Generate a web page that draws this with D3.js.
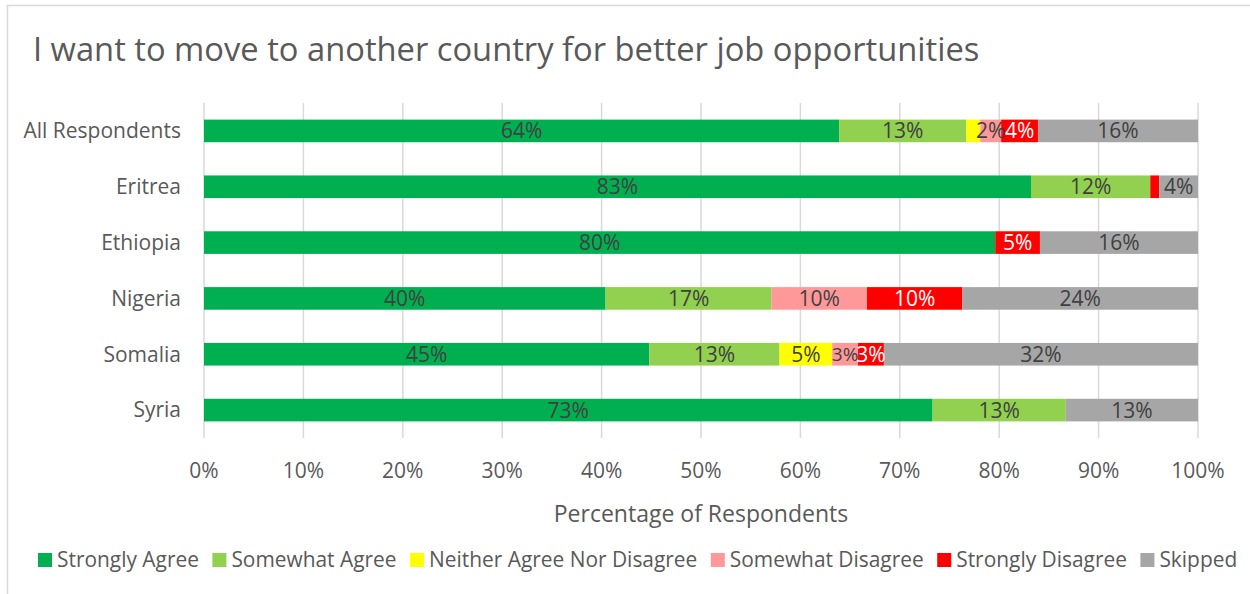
<!DOCTYPE html>
<html><head><meta charset="utf-8">
<script src="https://cdn.jsdelivr.net/npm/d3@7"></script>
<style>body{margin:0;background:#fff;} svg{display:block;font-family:"Open Sans",sans-serif;}</style>
</head><body>
<svg id="chart" width="1250" height="594"></svg>
<script>
const title = "I want to move to another country for better job opportunities";
const categories = ["All Respondents","Eritrea","Ethiopia","Nigeria","Somalia","Syria"];
const seriesNames = ["Strongly Agree","Somewhat Agree","Neither Agree Nor Disagree","Somewhat Disagree","Strongly Disagree","Skipped"];
const seriesColors = ["#00b050","#92d050","#ffff00","#ff9999","#ff0000","#a6a6a6"];
const stronglyAgree   = [63.9, 83.2, 79.6, 40.4, 44.8, 73.3];
const somewhatAgree   = [12.8, 12.0, 0, 16.7, 13.1, 13.4];
const neither         = [1.4, 0, 0, 0, 5.3, 0];
const somewhatDisagree= [2.1, 0, 0, 9.6, 2.6, 0];
const stronglyDisagree= [3.7, 0.9, 4.5, 9.6, 2.6, 0];
const skipped         = [16.1, 3.9, 15.9, 23.7, 31.6, 13.3];
const xTicks = [0,10,20,30,40,50,60,70,80,90,100];
const axisTitle = "Percentage of Respondents";

const series = [stronglyAgree, somewhatAgree, neither, somewhatDisagree, stronglyDisagree, skipped];
const svg = d3.select("#chart");
const textColor = "#595959";

// chart border
svg.append("rect").attr("x",7.5).attr("y",5.5).attr("width",1300).attr("height",700)
  .attr("fill","none").attr("stroke","#d9d9d9").attr("stroke-width",1.5);

svg.append("text").attr("x",33).attr("y",61).attr("font-size",32.7).attr("fill",textColor).text(title);

const x = d3.scaleLinear().domain([0,100]).range([204,1198]);
const y = d3.scaleBand().domain(categories).range([103,438]).paddingInner(0.595).paddingOuter(0.2975);

// gridlines
svg.append("g").selectAll("line").data(xTicks).join("line")
  .attr("x1",d=>x(d)).attr("x2",d=>x(d)).attr("y1",103).attr("y2",438)
  .attr("stroke","#d9d9d9").attr("stroke-width",1.5);

// tick labels
svg.append("g").selectAll("text").data(xTicks).join("text")
  .attr("x",d=>x(d)).attr("y",478).attr("text-anchor","middle")
  .attr("font-size",21).attr("fill",textColor).text(d=>d+"%");

// category labels
svg.append("g").selectAll("text").data(categories).join("text")
  .attr("x",181).attr("y",d=>y(d)+y.bandwidth()/2).attr("dy","0.35em").attr("text-anchor","end")
  .attr("font-size",21).attr("fill",textColor).text(d=>d);

// bars
const stackData = categories.map((c,i)=>{let o={cat:c}; seriesNames.forEach((s,j)=>o[s]=series[j][i]); return o;});
const stack = d3.stack().keys(seriesNames)(stackData);
const g = svg.append("g");
stack.forEach((layer,j)=>{
  g.append("g").selectAll("rect").data(layer).join("rect")
    .attr("x",d=>x(d[0])).attr("width",d=>x(d[1])-x(d[0]))
    .attr("y",d=>y(d.data.cat)).attr("height",y.bandwidth())
    .attr("fill",seriesColors[j]);
});
const labelNodes = {};
stack.forEach((layer,j)=>{
  g.append("g").selectAll("text").data(layer.filter(d=>Math.round(d[1]-d[0])>=2)).join("text")
    .attr("x",d=>(x(d[0])+x(d[1]))/2).attr("y",d=>y(d.data.cat)+y.bandwidth()/2).attr("dy","0.36em")
    .attr("text-anchor","middle").attr("font-size",21)
    .attr("fill",j===4?"#ffffff":"#404040")
    .text(d=>Math.round(d[1]-d[0])+"%")
    .each(function(d){ (labelNodes[d.data.cat] = labelNodes[d.data.cat] || []).push(this); });
});
// shrink a small label slightly where it clearly collides with its right neighbour
Object.values(labelNodes).forEach(nodes=>{
  for (let k=0;k<nodes.length-1;k++){
    const a = nodes[k].getBBox(), b = nodes[k+1].getBBox();
    if (a.x + a.width - b.x > 1.5) d3.select(nodes[k]).attr("font-size",19);
  }
});

// axis title
svg.append("text").attr("x",x(50)).attr("y",522).attr("text-anchor","middle")
  .attr("font-size",23).attr("fill",textColor).text(axisTitle);

// legend
const leg = svg.append("g");
let lx = 38;
seriesNames.forEach((s,j)=>{
  leg.append("rect").attr("x",lx).attr("y",553).attr("width",14).attr("height",14).attr("fill",seriesColors[j]);
  const t = leg.append("text").attr("x",lx+19).attr("y",567).attr("font-size",20.9).attr("fill",textColor).text(s);
  lx += 19 + t.node().getComputedTextLength() + 13.5;
});
</script>
</body></html>
